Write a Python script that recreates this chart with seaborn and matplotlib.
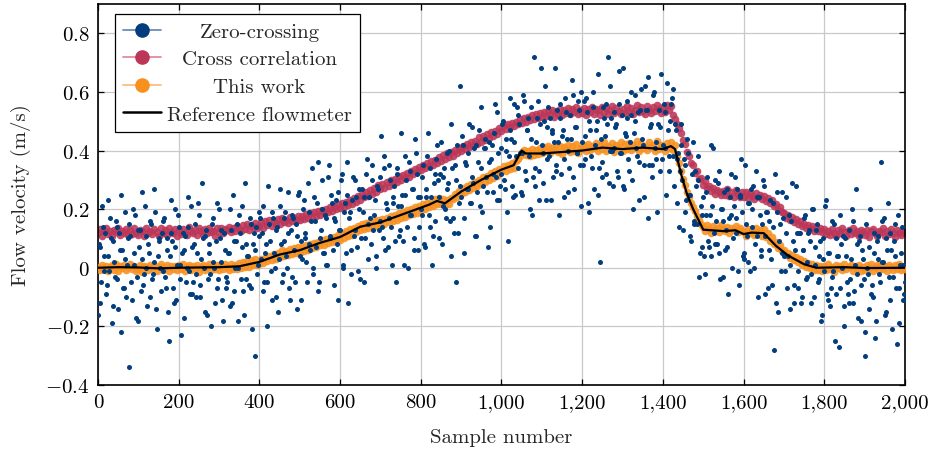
import numpy as np
import pandas as pd
import matplotlib
matplotlib.use("Agg")
import matplotlib.pyplot as plt
import seaborn as sns
from matplotlib.lines import Line2D
from matplotlib.offsetbox import VPacker

# ---------------- data ----------------
series_names = ["Zero-crossing", "Cross correlation", "This work", "Reference flowmeter"]

# Zero-crossing estimates, first pass: samples 0, 4, 8, ..., 2000
zc_values_a = [
    -0.16, 0.07, -0.05, 0.14, 0.04, -0.09, 0.23, -0.01, 0.10, -0.13, 0.02, 0.16, -0.04, 0.12, -0.22, 0.06, -0.07, 0.19, 0.01, -0.34,
    0.11, -0.11, 0.05, 0.18, -0.03, -0.18, 0.13, 0.03, -0.06, 0.21, 0.00, 0.08, -0.10, 0.15, -0.02, 0.27, -0.14, 0.04, 0.10, -0.08,
    -0.01, 0.17, -0.07, 0.06, -0.25, 0.12, 0.09, -0.12, 0.20, 0.01, 0.14, -0.04, 0.05, -0.17, 0.11, 0.00, 0.24, -0.09, 0.07, -0.05,
    0.15, -0.02, 0.22, -0.10, 0.03, 0.10, -0.15, 0.13, -0.04, 0.05, -0.20, 0.17, 0.00, 0.09, -0.07, 0.20, 0.02, -0.11, 0.12, -0.03,
    -0.05, 0.05, 0.20, -0.12, 0.09, 0.00, 0.15, -0.18, 0.12, 0.07, -0.08, 0.29, -0.04, 0.04, 0.17, -0.07, 0.08, -0.30, 0.14, 0.01,
    0.11, 0.03, 0.21, -0.05, 0.08, -0.20, 0.15, -0.01, 0.19, 0.05, -0.10, 0.14, 0.03, 0.27, -0.05, 0.09, 0.19, 0.00, 0.12, -0.11,
    -0.03, 0.17, -0.05, 0.11, 0.25, 0.04, -0.11, 0.20, 0.10, 0.02, 0.29, 0.08, 0.16, -0.02, 0.24, 0.07, 0.36, -0.05, 0.13, 0.20,
    0.05, 0.17, 0.01, 0.35, 0.11, 0.22, -0.06, 0.16, 0.08, 0.26, 0.13, 0.32, 0.00, 0.22, 0.25, -0.12, 0.19, 0.06, 0.31, 0.13,
    0.24, -0.01, 0.27, 0.10, 0.19, -0.05, 0.32, 0.15, 0.24, 0.08, 0.35, 0.18, 0.04, 0.28, 0.13, 0.31, 0.14, 0.38, 0.06, 0.20,
    0.17, 0.30, 0.01, 0.24, 0.09, 0.34, 0.21, 0.13, 0.46, 0.09, 0.25, 0.30, 0.00, 0.33, 0.18, 0.27, 0.06, 0.39, 0.24, 0.14,
    0.20, 0.31, 0.08, 0.24, 0.38, 0.18, 0.34, 0.01, 0.29, 0.16, 0.42, 0.24, 0.32, 0.08, 0.31, 0.20, 0.39, 0.29, 0.16, 0.49,
    0.17, 0.35, -0.05, 0.12, 0.62, 0.24, 0.42, 0.17, 0.35, 0.27, 0.49, 0.22, 0.31, 0.41, 0.11, 0.26, 0.47, 0.34, 0.19, 0.41,
    0.44, 0.26, 0.36, 0.14, 0.42, 0.32, 0.56, 0.23, 0.39, 0.28, 0.32, 0.50, 0.27, 0.40, 0.09, 0.47, 0.44, 0.24, 0.56, 0.38,
    0.34, 0.49, 0.26, 0.39, 0.57, 0.30, 0.47, 0.38, 0.55, 0.18, 0.72, 0.34, 0.51, 0.23, 0.49, 0.42, 0.29, 0.62, 0.37, 0.55,
    0.51, 0.46, 0.31, 0.68, 0.35, 0.43, 0.56, 0.32, 0.47, 0.24, 0.53, 0.40, 0.34, 0.44, 0.59, 0.27, 0.48, 0.39, 0.54, 0.21,
    0.43, 0.57, 0.37, 0.53, 0.19, 0.47, 0.34, 0.60, 0.42, 0.50, 0.25, 0.02, 0.36, 0.55, 0.45, 0.32, 0.72, 0.40, 0.51, 0.28,
    0.41, 0.49, 0.31, 0.56, 0.39, 0.68, 0.27, 0.45, 0.51, 0.33, 0.52, 0.30, 0.46, 0.59, 0.38, 0.23, 0.54, 0.44, 0.35, 0.62,
    0.54, 0.17, 0.48, 0.35, 0.59, 0.41, 0.37, 0.49, 0.33, 0.66, 0.42, 0.53, 0.25, 0.47, 0.38, 0.56, 0.61, 0.28, 0.47, 0.37,
    0.14, 0.49, 0.30, 0.37, 0.19, 0.44, 0.25, 0.11, 0.32, 0.16, 0.33, 0.15, 0.38, 0.05, 0.18, 0.24, -0.02, 0.26, 0.09, 0.18,
    0.04, 0.41, 0.08, 0.16, 0.29, 0.05, 0.20, -0.03, 0.26, 0.13, 0.07, 0.17, 0.32, 0.00, 0.21, 0.12, 0.27, -0.06, 0.24, 0.19,
    0.03, 0.35, 0.11, 0.22, -0.01, 0.14, 0.28, 0.08, 0.24, -0.10, 0.18, 0.04, 0.30, 0.11, 0.19, -0.07, 0.16, 0.03, 0.22, -0.28,
    -0.12, 0.19, 0.09, -0.01, 0.26, 0.04, 0.12, -0.07, 0.18, 0.01, 0.29, -0.12, 0.06, 0.12, -0.07, 0.12, -0.10, 0.06, 0.18, -0.03,
    0.12, 0.09, -0.12, 0.20, 0.01, 0.13, -0.05, 0.04, -0.18, 0.10, -0.01, 0.23, -0.11, 0.05, -0.07, -0.03, 0.15, -0.09, 0.04, -0.27,
    0.18, 0.00, -0.13, 0.10, -0.05, 0.13, -0.04, 0.20, -0.12, 0.01, 0.08, -0.17, 0.11, -0.06, 0.03, -0.22, 0.15, -0.02, 0.07, -0.09,
    -0.10, 0.05, -0.18, 0.11, -0.02, 0.36, 0.02, 0.17, -0.15, 0.06, -0.03, 0.12, -0.21, 0.09, 0.04, -0.26, -0.07, 0.01, 0.14, -0.11,
    -0.05,
]

# Zero-crossing estimates, second pass: samples 2, 6, 10, ..., 1998
zc_values_b = [
    0.08, -0.12, 0.21, -0.01, 0.12, -0.06, 0.04, 0.17, -0.19, 0.09, -0.03, 0.14, -0.14, 0.06, 0.25, -0.07, 0.03, -0.10, 0.10, 0.15,
    -0.05, 0.20, 0.01, -0.17, 0.13, 0.07, -0.08, 0.26, -0.02, 0.11, -0.13, 0.05, 0.16, -0.04, 0.02, 0.19, -0.21, 0.09, 0.00, 0.12,
    0.16, -0.03, 0.10, -0.15, 0.04, 0.23, -0.07, 0.07, -0.11, 0.18, 0.01, -0.23, 0.12, 0.06, -0.05, 0.14, -0.01, 0.21, -0.09, 0.08,
    -0.10, 0.05, 0.18, -0.06, 0.29, 0.00, 0.11, -0.16, 0.08, -0.02, 0.15, 0.02, -0.12, 0.22, -0.04, 0.10, 0.13, -0.18, 0.06, -0.07,
    0.05, -0.13, 0.13, 0.25, -0.08, 0.09, 0.00, 0.18, -0.04, 0.21, -0.16, 0.08, 0.04, -0.06, 0.15, -0.21, 0.12, 0.06, -0.02, 0.19,
    0.17, 0.12, -0.08, 0.05, -0.05, 0.28, 0.09, -0.11, 0.17, 0.00, 0.13, -0.15, 0.21, 0.08, -0.02, 0.17, 0.04, 0.26, -0.07, 0.13,
    0.18, 0.06, 0.15, -0.14, 0.26, 0.09, 0.03, 0.23, 0.12, -0.05, 0.19, 0.06, 0.34, 0.00, 0.16, 0.22, -0.08, 0.10, 0.30, 0.05,
    0.18, 0.01, 0.31, 0.10, 0.25, 0.06, 0.17, 0.23, -0.11, 0.13, 0.30, 0.01, 0.19, 0.05, 0.36, 0.17, -0.02, 0.23, 0.11, 0.30,
    0.07, 0.20, -0.04, 0.27, 0.24, 0.10, 0.37, 0.03, 0.17, 0.30, 0.13, 0.23, 0.00, 0.27, 0.16, 0.45, 0.10, 0.34, 0.22, 0.07,
    0.35, 0.14, 0.22, 0.28, -0.05, 0.32, 0.11, 0.21, 0.25, 0.01, 0.38, 0.14, 0.36, 0.18, 0.27, 0.10, 0.44, 0.32, 0.06, 0.24,
    0.18, 0.35, 0.07, 0.27, 0.46, 0.14, 0.24, 0.11, 0.32, 0.37, 0.30, 0.10, 0.43, 0.21, 0.34, 0.17, 0.27, 0.40, 0.04, 0.34,
    0.12, 0.30, 0.42, 0.22, 0.28, 0.45, 0.05, 0.36, 0.27, 0.39, 0.22, 0.48, 0.29, 0.11, 0.42, 0.36, 0.21, 0.55, 0.28, 0.41,
    0.31, 0.07, 0.43, 0.37, 0.26, 0.46, 0.31, 0.53, 0.23, 0.41, 0.49, 0.30, 0.44, 0.19, 0.38, 0.58, 0.28, 0.43, 0.25, 0.55,
    0.52, 0.39, 0.25, 0.59, 0.33, 0.47, 0.51, 0.20, 0.44, 0.31, 0.28, 0.43, 0.57, 0.33, 0.68, 0.39, 0.50, 0.23, 0.48, 0.38,
    0.23, 0.47, 0.43, 0.33, 0.54, 0.18, 0.51, 0.45, 0.37, 0.58, 0.44, 0.26, 0.52, 0.64, 0.31, 0.48, 0.39, 0.57, 0.35, 0.60,
    0.35, 0.45, 0.58, 0.22, 0.50, 0.38, 0.55, 0.27, 0.47, 0.66, 0.34, 0.44, 0.31, 0.51, 0.56, 0.49, 0.29, 0.62, 0.40, 0.53,
    0.48, 0.33, 0.67, 0.39, 0.52, 0.28, 0.46, 0.57, 0.37, 0.43, 0.60, 0.20, 0.50, 0.41, 0.53, 0.36, 0.61, 0.42, 0.24, 0.54,
    0.65, 0.35, 0.49, 0.31, 0.60, 0.43, 0.19, 0.54, 0.48, 0.37, 0.56, 0.41, 0.63, 0.33, 0.50, 0.58, 0.38, 0.49, 0.22, 0.39,
    0.33, 0.42, 0.13, 0.35, 0.23, 0.39, 0.25, 0.09, 0.43, 0.15, 0.28, 0.30, -0.03, 0.21, 0.07, 0.04, 0.18, 0.31, 0.07, 0.42,
    0.21, 0.12, 0.30, 0.08, 0.33, -0.04, 0.20, 0.16, 0.06, 0.27, -0.09, 0.24, 0.18, 0.10, 0.31, 0.17, -0.01, 0.25, 0.37, 0.04,
    0.05, 0.15, 0.02, 0.22, 0.27, 0.20, 0.00, 0.33, 0.11, 0.24, 0.06, 0.15, 0.28, -0.09, 0.19, 0.06, 0.23, -0.06, 0.14, 0.32,
    0.26, -0.15, 0.15, 0.05, 0.17, -0.01, 0.24, 0.04, -0.14, 0.16, 0.09, -0.06, 0.28, -0.01, 0.12, -0.12, 0.06, 0.17, -0.04, 0.02,
    0.13, -0.02, 0.20, -0.10, 0.07, 0.15, -0.04, 0.09, -0.16, 0.03, 0.21, -0.09, 0.05, -0.13, 0.16, -0.01, -0.25, 0.10, 0.04, -0.07,
    0.08, 0.11, -0.20, 0.04, -0.09, -0.12, 0.03, 0.16, -0.08, 0.27, -0.02, 0.09, -0.18, 0.06, -0.04, -0.30, 0.00, -0.14, 0.20, -0.06,
    0.12, -0.24, 0.09, 0.03, -0.05, 0.16, 0.02, -0.16, 0.10, 0.22, -0.11, 0.06, -0.03, 0.15, -0.07, 0.18, -0.19, 0.05, 0.01, -0.09,
]

# Cross correlation estimates, one every 5 samples (0..2000)
cc_values = [
    0.118, 0.131, 0.110, 0.127, 0.134, 0.115, 0.124, 0.108, 0.129, 0.121, 0.136, 0.113, 0.126, 0.119, 0.133, 0.111, 0.128, 0.116, 0.135, 0.120,
    0.112, 0.130, 0.125, 0.109, 0.137, 0.118, 0.127, 0.114, 0.132, 0.121, 0.110, 0.134, 0.119, 0.128, 0.113, 0.136, 0.122, 0.117, 0.131, 0.108,
    0.129, 0.115, 0.133, 0.120, 0.111, 0.138, 0.124, 0.117, 0.130, 0.112, 0.135, 0.126, 0.114, 0.132, 0.119, 0.137, 0.121, 0.127, 0.110, 0.134,
    0.121, 0.136, 0.118, 0.133, 0.129, 0.140, 0.122, 0.137, 0.126, 0.143, 0.131, 0.124, 0.145, 0.133, 0.149, 0.128, 0.147, 0.139, 0.152, 0.136,
    0.141, 0.155, 0.137, 0.158, 0.146, 0.162, 0.143, 0.159, 0.151, 0.166, 0.148, 0.170, 0.155, 0.163, 0.152, 0.174, 0.160, 0.169, 0.158, 0.177,
    0.163, 0.178, 0.166, 0.182, 0.171, 0.187, 0.170, 0.189, 0.176, 0.193, 0.179, 0.196, 0.186, 0.201, 0.189, 0.206, 0.195, 0.210, 0.199, 0.216,
    0.203, 0.220, 0.209, 0.226, 0.214, 0.231, 0.219, 0.237, 0.226, 0.246, 0.232, 0.251, 0.240, 0.258, 0.246, 0.264, 0.253, 0.272, 0.260, 0.281,
    0.268, 0.287, 0.273, 0.292, 0.280, 0.298, 0.285, 0.303, 0.293, 0.313, 0.299, 0.318, 0.306, 0.324, 0.311, 0.331, 0.319, 0.338, 0.326, 0.345,
    0.333, 0.352, 0.339, 0.358, 0.346, 0.364, 0.351, 0.369, 0.359, 0.378, 0.366, 0.384, 0.371, 0.390, 0.377, 0.396, 0.383, 0.401, 0.390, 0.410,
    0.398, 0.416, 0.404, 0.421, 0.411, 0.428, 0.416, 0.433, 0.423, 0.447, 0.429, 0.451, 0.437, 0.455, 0.443, 0.462, 0.449, 0.468, 0.457, 0.477,
    0.468, 0.486, 0.473, 0.490, 0.479, 0.495, 0.484, 0.499, 0.490, 0.507, 0.494, 0.511, 0.499, 0.515, 0.503, 0.521, 0.508, 0.524, 0.512, 0.529,
    0.513, 0.531, 0.518, 0.535, 0.522, 0.540, 0.516, 0.534, 0.526, 0.543, 0.520, 0.538, 0.529, 0.545, 0.523, 0.541, 0.530, 0.547, 0.525, 0.539,
    0.528, 0.546, 0.522, 0.541, 0.533, 0.550, 0.526, 0.543, 0.537, 0.521, 0.548, 0.531, 0.544, 0.524, 0.539, 0.552, 0.529, 0.545, 0.534, 0.523,
    0.542, 0.527, 0.551, 0.533, 0.546, 0.524, 0.540, 0.555, 0.530, 0.548, 0.536, 0.525, 0.553, 0.538, 0.529, 0.549, 0.534, 0.557, 0.541, 0.528,
    0.547, 0.532, 0.556, 0.538, 0.551, 0.522, 0.509, 0.492, 0.477, 0.461, 0.437, 0.421, 0.396, 0.383, 0.359, 0.352, 0.324, 0.331, 0.303, 0.308,
    0.284, 0.296, 0.271, 0.279, 0.263, 0.272, 0.251, 0.266, 0.258, 0.247, 0.262, 0.250, 0.268, 0.245, 0.259, 0.243, 0.264, 0.252, 0.241, 0.257,
    0.243, 0.258, 0.239, 0.254, 0.246, 0.236, 0.255, 0.242, 0.250, 0.233, 0.246, 0.229, 0.238, 0.220, 0.230, 0.211, 0.217, 0.198, 0.207, 0.189,
    0.188, 0.171, 0.180, 0.163, 0.172, 0.157, 0.166, 0.148, 0.159, 0.142, 0.151, 0.136, 0.146, 0.131, 0.142, 0.126, 0.138, 0.124, 0.134, 0.121,
    0.131, 0.116, 0.127, 0.112, 0.133, 0.120, 0.109, 0.128, 0.117, 0.135, 0.122, 0.110, 0.129, 0.115, 0.134, 0.119, 0.126, 0.108, 0.130, 0.121,
    0.113, 0.128, 0.106, 0.124, 0.132, 0.117, 0.110, 0.127, 0.121, 0.135, 0.109, 0.125, 0.114, 0.131, 0.118, 0.106, 0.129, 0.120, 0.112, 0.126,
    0.119,
]

# This work estimates, one every 5 samples (0..2000)
tw_values = [
    0.004, -0.008, 0.011, -0.003, 0.007, -0.012, 0.002, 0.009, -0.006, 0.013, -0.010, 0.005, -0.002, 0.010, -0.009, 0.003, 0.012, -0.005, 0.006, -0.011,
    -0.004, 0.009, -0.013, 0.006, 0.001, -0.007, 0.011, -0.002, 0.008, -0.010, 0.004, 0.012, -0.006, 0.000, 0.010, -0.012, 0.007, -0.003, 0.005, -0.009,
    0.008, -0.005, 0.013, -0.011, 0.003, 0.010, -0.007, 0.006, -0.002, 0.011, -0.013, 0.004, 0.009, -0.006, 0.001, 0.012, -0.009, 0.007, -0.004, 0.010,
    -0.006, 0.011, -0.004, 0.014, 0.002, -0.009, 0.013, -0.003, 0.009, -0.005, 0.016, -0.002, 0.020, 0.003, 0.022, 0.001, 0.026, 0.008, 0.030, 0.011,
    0.012, 0.031, 0.016, 0.035, 0.024, 0.041, 0.028, 0.046, 0.030, 0.052, 0.037, 0.059, 0.041, 0.058, 0.043, 0.064, 0.047, 0.066, 0.049, 0.071,
    0.052, 0.071, 0.057, 0.076, 0.062, 0.081, 0.066, 0.084, 0.071, 0.089, 0.077, 0.094, 0.079, 0.099, 0.085, 0.102, 0.088, 0.106, 0.092, 0.112,
    0.096, 0.118, 0.101, 0.124, 0.107, 0.131, 0.113, 0.137, 0.121, 0.143, 0.128, 0.150, 0.133, 0.154, 0.137, 0.156, 0.139, 0.160, 0.142, 0.163,
    0.147, 0.168, 0.150, 0.171, 0.156, 0.175, 0.160, 0.181, 0.164, 0.186, 0.170, 0.191, 0.174, 0.196, 0.180, 0.201, 0.184, 0.206, 0.188, 0.212,
    0.196, 0.216, 0.201, 0.221, 0.207, 0.226, 0.210, 0.233, 0.216, 0.238, 0.219, 0.233, 0.214, 0.230, 0.218, 0.239, 0.233, 0.252, 0.241, 0.263,
    0.251, 0.273, 0.258, 0.279, 0.264, 0.287, 0.271, 0.293, 0.279, 0.300, 0.285, 0.309, 0.292, 0.314, 0.298, 0.322, 0.305, 0.330, 0.312, 0.338,
    0.326, 0.347, 0.331, 0.352, 0.337, 0.357, 0.341, 0.366, 0.372, 0.381, 0.394, 0.403, 0.386, 0.398, 0.381, 0.404, 0.385, 0.401, 0.389, 0.407,
    0.393, 0.412, 0.398, 0.417, 0.390, 0.409, 0.401, 0.421, 0.396, 0.414, 0.388, 0.411, 0.403, 0.419, 0.395, 0.416, 0.399, 0.422, 0.392, 0.410,
    0.404, 0.418, 0.397, 0.424, 0.401, 0.415, 0.409, 0.426, 0.398, 0.419, 0.405, 0.428, 0.400, 0.417, 0.411, 0.425, 0.396, 0.420, 0.407, 0.429,
    0.399, 0.421, 0.406, 0.427, 0.402, 0.418, 0.410, 0.431, 0.397, 0.423, 0.408, 0.416, 0.401, 0.428, 0.412, 0.420, 0.398, 0.433, 0.405, 0.419,
    0.412, 0.399, 0.425, 0.407, 0.430, 0.401, 0.418, 0.383, 0.356, 0.331, 0.303, 0.281, 0.258, 0.241, 0.222, 0.207, 0.194, 0.178, 0.163, 0.151,
    0.138, 0.124, 0.145, 0.131, 0.119, 0.142, 0.128, 0.136, 0.121, 0.147, 0.133, 0.125, 0.140, 0.118, 0.137, 0.129, 0.144, 0.122, 0.135, 0.127,
    0.123, 0.109, 0.131, 0.117, 0.126, 0.112, 0.134, 0.119, 0.128, 0.110, 0.132, 0.104, 0.118, 0.093, 0.106, 0.082, 0.089, 0.066, 0.077, 0.056,
    0.061, 0.043, 0.052, 0.034, 0.044, 0.026, 0.037, 0.018, 0.029, 0.011, 0.022, 0.004, 0.017, -0.002, 0.013, -0.006, 0.009, -0.008, 0.006, -0.010,
    0.007, -0.009, 0.012, -0.004, 0.003, -0.013, 0.010, -0.001, 0.006, -0.008, 0.013, -0.005, 0.002, 0.011, -0.010, 0.005, -0.003, 0.009, -0.012, 0.004,
    -0.006, 0.010, -0.002, 0.013, -0.011, 0.004, 0.008, -0.007, 0.012, -0.003, 0.006, -0.010, 0.011, 0.001, -0.008, 0.009, -0.004, 0.012, -0.009, 0.003,
    -0.005,
]

# Reference flowmeter trace
ref_samples = [0, 50, 100, 150, 200, 250, 300, 350, 400, 450,
               500, 550, 600, 650, 700, 750, 800, 820, 840, 860,
               900, 950, 1000, 1030, 1050, 1060, 1100, 1150, 1200, 1250,
               1300, 1350, 1400, 1420, 1430, 1445, 1460, 1475, 1500, 1550,
               1580, 1600, 1620, 1650, 1680, 1710, 1750, 1780, 1850, 1900,
               2000]
ref_values = [0.0, 0.002, 0.001, -0.002, 0.0, 0.001, 0.002, 0.005, 0.02, 0.045,
              0.06, 0.085, 0.105, 0.14, 0.155, 0.18, 0.205, 0.215, 0.228, 0.22,
              0.26, 0.30, 0.335, 0.35, 0.40, 0.39, 0.39, 0.395, 0.40, 0.41,
              0.405, 0.41, 0.405, 0.415, 0.405, 0.32, 0.25, 0.20, 0.13, 0.125,
              0.128, 0.115, 0.12, 0.118, 0.075, 0.042, 0.012, 0.0, 0.002, -0.001,
              0.0]

x_ticks = [0, 200, 400, 600, 800, 1000, 1200, 1400, 1600, 1800, 2000]
x_tick_labels = ["0", "200", "400", "600", "800", "1,000", "1,200", "1,400", "1,600", "1,800", "2,000"]
y_ticks = [-0.4, -0.2, 0.0, 0.2, 0.4, 0.6, 0.8]
y_tick_labels = [r"$-0.4$", r"$-0.2$", r"$0$", r"$0.2$", r"$0.4$", r"$0.6$", r"$0.8$"]

# ---------------- styling ----------------
sns.set_theme(style="ticks")
plt.rcParams["font.family"] = ["cmr10", "DejaVu Serif"]
plt.rcParams["mathtext.fontset"] = "cm"
plt.rcParams["axes.unicode_minus"] = False
plt.rcParams["axes.formatter.use_mathtext"] = True

c_blue, c_blue_l = "#023e7d", "#6a8fb8"
c_red, c_red_l = "#bc3658", "#dc8da0"
c_orange, c_orange_l = "#f7901e", "#fbbf7a"

zc_df = pd.DataFrame({
    "sample": np.concatenate([np.arange(len(zc_values_a)) * 4,
                              np.arange(len(zc_values_b)) * 4 + 2]),
    "v": zc_values_a + zc_values_b,
})
cc_df = pd.DataFrame({"sample": np.arange(len(cc_values)) * 5, "v": cc_values})
tw_df = pd.DataFrame({"sample": np.arange(len(tw_values)) * 5, "v": tw_values})
ref_df = pd.DataFrame({"sample": ref_samples, "v": ref_values})

fig = plt.figure(figsize=(9.37, 4.52), dpi=100)
ax = fig.add_axes([98 / 937, 1 - 386 / 452, 807 / 937, 381 / 452])

sns.scatterplot(data=cc_df, x="sample", y="v", ax=ax, color=c_red, s=30,
                linewidth=0, alpha=0.88, zorder=2, legend=False)
sns.scatterplot(data=tw_df, x="sample", y="v", ax=ax, color=c_orange, s=30,
                linewidth=0, alpha=0.88, zorder=3, legend=False)
sns.scatterplot(data=zc_df, x="sample", y="v", ax=ax, color=c_blue, s=13,
                linewidth=0, zorder=4, legend=False)
sns.lineplot(data=ref_df, x="sample", y="v", ax=ax, color="black", lw=1.6,
             sort=False, estimator=None, zorder=5, legend=False)

ax.set_xlim(0, 2000)
ax.set_ylim(-0.4, 0.9)
ax.set_xticks(x_ticks)
ax.set_xticklabels(x_tick_labels)
ax.set_yticks(y_ticks)
ax.set_yticklabels(y_tick_labels)
ax.grid(True, color="#c9c9c9", lw=0.9)
ax.set_axisbelow(True)
for sp in ax.spines.values():
    sp.set_visible(True)
    sp.set_color("black")
    sp.set_linewidth(1.2)
ax.tick_params(direction="in", length=4, width=0.9, colors="black",
               top=True, right=True, labelsize=15, pad=6)
ax.set_xlabel("Sample number", fontsize=15, labelpad=12)
ax.set_ylabel("Flow velocity (m/s)", fontsize=15, labelpad=10)

handles = [
    Line2D([], [], color=c_blue_l, lw=1.3, marker="o", markersize=9.5,
           markerfacecolor=c_blue, markeredgecolor=c_blue),
    Line2D([], [], color=c_red_l, lw=1.3, marker="o", markersize=9.5,
           markerfacecolor=c_red, markeredgecolor=c_red),
    Line2D([], [], color=c_orange_l, lw=1.3, marker="o", markersize=9.5,
           markerfacecolor=c_orange, markeredgecolor=c_orange),
    Line2D([], [], color="black", lw=1.8),
]
leg = ax.legend(handles=handles, labels=series_names, loc="upper left",
                bbox_to_anchor=(17 / 807, 1 - 10 / 381), borderaxespad=0,
                frameon=True, fancybox=False, edgecolor="black", framealpha=1,
                fontsize=15, handlelength=1.8, handletextpad=0.3,
                labelspacing=0.43, borderpad=0.4)
leg.get_frame().set_linewidth(0.9)
leg.set_zorder(10)

# centre the legend texts like the reference
fig.canvas.draw()
try:
    renderer = fig.canvas.get_renderer()
    widths = [t.get_window_extent(renderer).width for t in leg.get_texts()]
    maxw = max(widths)
    col = leg._legend_handle_box.get_children()[0]
    for item in col.get_children():
        kids = item.get_children()
        item._children[1] = VPacker(pad=0, sep=0, width=maxw, align="center",
                                    children=[kids[1]])
except Exception:
    pass

fig.savefig("out.png", dpi=100)
